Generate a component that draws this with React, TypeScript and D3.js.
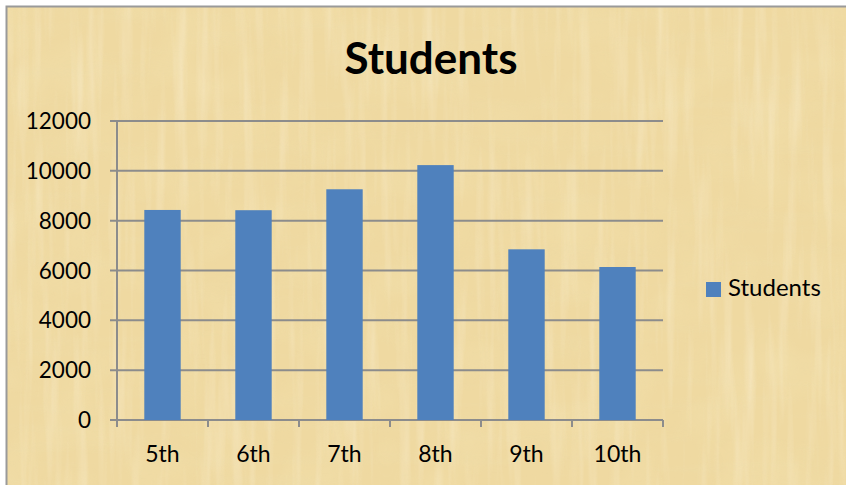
import React from "react";
import * as d3 from "d3";

const categories = ["5th", "6th", "7th", "8th", "9th", "10th"];
const students = [8430, 8420, 9260, 10230, 6850, 6140];
const yTicks = [0, 2000, 4000, 6000, 8000, 10000, 12000];
const seriesName = "Students";
const chartTitle = "Students";

export default function App() {
  const W = 846, H = 485;
  const left = 117, right = 663, top = 121, bottom = 420;
  const x = d3.scaleBand<string>().domain(categories).range([left, right]).paddingInner(0.6).paddingOuter(0.3);
  const y = d3.scaleLinear().domain([0, 12000]).range([bottom, top]);
  const step = (right - left) / categories.length;
  const font = "Lato, 'Open Sans', sans-serif";
  const barColor = "#4F81BD";
  const axisColor = "#8C8C8C";
  return (
    <svg width={W} height={H} style={{ position: "absolute", left: 0, top: 0 }}>
      <defs>
        <filter id="fibH" x="0" y="0" width="100%" height="100%">
          <feTurbulence type="fractalNoise" baseFrequency="0.006 0.09" numOctaves="3" seed="3" />
          <feColorMatrix type="matrix" values="0 0 0 0 0.85  0 0 0 0 0.72  0 0 0 0 0.40  1.6 0 0 0 -0.75" />
        </filter>
        <filter id="fibV" x="0" y="0" width="100%" height="100%">
          <feTurbulence type="fractalNoise" baseFrequency="0.09 0.006" numOctaves="3" seed="7" />
          <feColorMatrix type="matrix" values="0 0 0 0 1  0 0 0 0 0.95  0 0 0 0 0.82  1.6 0 0 0 -0.75" />
        </filter>
        <filter id="blot" x="0" y="0" width="100%" height="100%">
          <feTurbulence type="fractalNoise" baseFrequency="0.02 0.02" numOctaves="2" seed="11" />
          <feColorMatrix type="matrix" values="0 0 0 0 0.90  0 0 0 0 0.78  0 0 0 0 0.45  1.2 0 0 0 -0.5" />
        </filter>
      </defs>
      <rect x={0} y={0} width={W} height={H} fill="#ffffff" />
      <rect x={7} y={7} width={W + 20} height={H + 20} fill="#EFD9A1" />
      <rect x={7} y={7} width={W + 20} height={H + 20} filter="url(#blot)" opacity={0.5} />
      <rect x={7} y={7} width={W + 20} height={H + 20} filter="url(#fibH)" opacity={0.4} />
      <rect x={7} y={7} width={W + 20} height={H + 20} filter="url(#fibV)" opacity={0.4} />
      <rect x={6.5} y={6.5} width={W + 20} height={H + 20} fill="none" stroke="#9A9A9A" strokeWidth={2} />

      <text x={431} y={74} textAnchor="middle" fontFamily={font} fontWeight="bold" fontSize={44} fill="#000">{chartTitle}</text>

      {yTicks.map((t) => (
        <g key={t}>
          <line x1={left - 7} x2={right} y1={y(t)} y2={y(t)} stroke={axisColor} strokeWidth={2} />
          <text x={91} y={y(t) + 8} textAnchor="end" fontFamily={font} fontSize={22.5} fill="#000">{t}</text>
        </g>
      ))}
      <line x1={left} x2={left} y1={top} y2={bottom} stroke={axisColor} strokeWidth={2} />

      {students.map((v, i) => (
        <rect key={categories[i]} x={x(categories[i])} y={y(v)} width={x.bandwidth()} height={y(0) - y(v)} fill={barColor} />
      ))}

      {d3.range(categories.length + 1).map((i) => (
        <line key={i} x1={left + i * step} x2={left + i * step} y1={bottom} y2={bottom + 7} stroke={axisColor} strokeWidth={2} />
      ))}
      {categories.map((c) => (
        <text key={c} x={(x(c) as number) + x.bandwidth() / 2} y={462} textAnchor="middle" fontFamily={font} fontSize={23} fill="#000">{c}</text>
      ))}

      <rect x={706} y={282} width={15} height={15} fill={barColor} />
      <text x={728} y={296} fontFamily={font} fontSize={24} fill="#000">{seriesName}</text>
    </svg>
  );
}
